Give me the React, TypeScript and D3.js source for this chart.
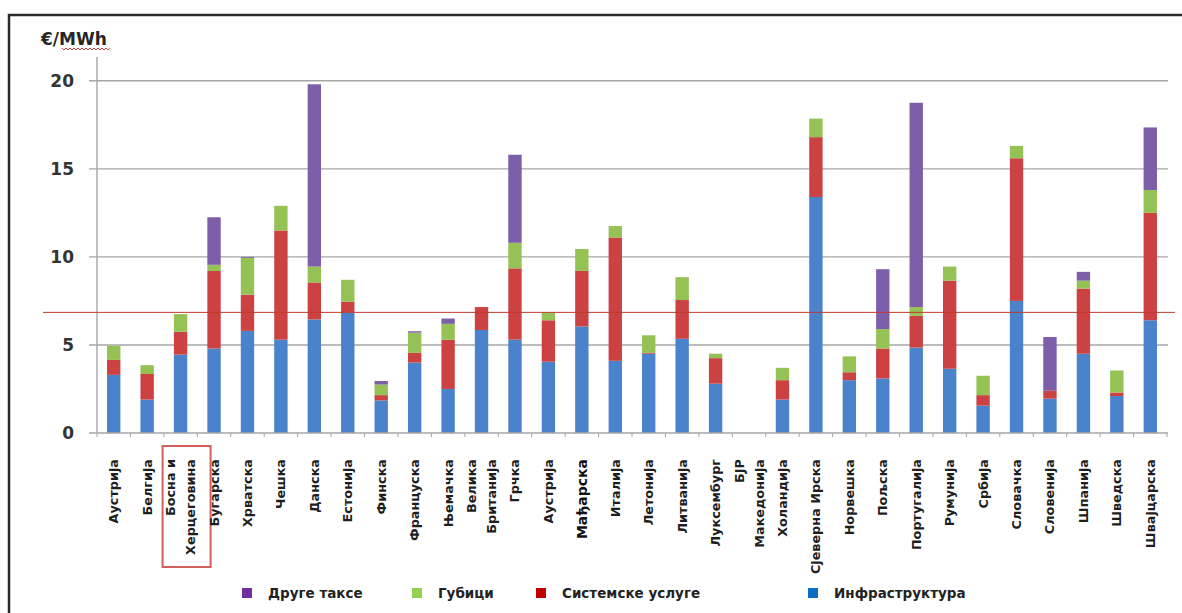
import React from "react";
import * as d3 from "d3";

// Countries along the x axis (multi-line labels split with "\n")
const countries = [
  "Аустрија", "Белгија", "Босна и\nХерцеговина", "Бугарска", "Хрватска", "Чешка",
  "Данска", "Естонија", "Финска", "Француска", "Њемачка", "Велика\nБританија",
  "Грчка", "Аустрија", "Мађарска", "Италија", "Летонија", "Литванија",
  "Луксембург", "БЈР\nМакедонија", "Холандија", "Сјеверна Ирска", "Норвешка", "Пољска",
  "Португалија", "Румунија", "Србија", "Словачка", "Словенија", "Шпанија",
  "Шведска", "Швајцарска",
];

// €/MWh components, stacked bottom to top
const infrastructure = [
  3.3, 1.9, 4.45, 4.8, 5.8, 5.3, 6.45, 6.85, 1.85, 4.0, 2.5, 5.85,
  5.3, 4.05, 6.05, 4.1, 4.5, 5.35, 2.8, 0, 1.9, 13.4, 3.0, 3.1,
  4.85, 3.65, 1.55, 7.5, 1.95, 4.5, 2.1, 6.4,
];
const systemServices = [
  0.85, 1.45, 1.3, 4.4, 2.05, 6.2, 2.1, 0.6, 0.3, 0.55, 2.8, 1.3,
  4.05, 2.35, 3.15, 7.0, 0.05, 2.2, 1.45, 0, 1.1, 3.4, 0.45, 1.7,
  1.8, 5.0, 0.6, 8.1, 0.45, 3.7, 0.2, 6.1,
];
const losses = [
  0.8, 0.5, 1.0, 0.35, 2.1, 1.4, 0.9, 1.25, 0.6, 1.15, 0.9, 0,
  1.45, 0.45, 1.25, 0.65, 1.0, 1.3, 0.25, 0, 0.7, 1.05, 0.9, 1.1,
  0.5, 0.8, 1.1, 0.7, 0, 0.45, 1.25, 1.3,
];
const otherTaxes = [
  0, 0, 0, 2.7, 0.05, 0, 10.35, 0, 0.2, 0.08, 0.3, 0,
  5.0, 0, 0, 0, 0, 0, 0, 0, 0, 0, 0, 3.4,
  11.6, 0, 0, 0, 3.05, 0.5, 0, 3.55,
];

const seriesKeys = ["infra", "system", "losses", "other"];
const seriesNames = ["Инфраструктура", "Системске услуге", "Губици", "Друге таксе"];
const barColors = ["#4a82cc", "#cc4242", "#95c255", "#7d5ea8"];
const legendColors = ["#0a6fc2", "#c00000", "#92d050", "#7030a0"];
const legendOrder = [3, 2, 1, 0];

const yTicks = [0, 5, 10, 15, 20];
const averageLevel = 6.85;
const highlighted = "Босна и\nХерцеговина";

const W = 1182;
const H = 613;

export default function App() {
  const rows = countries.map((c, i) => ({
    country: c,
    idx: i,
    infra: infrastructure[i],
    system: systemServices[i],
    losses: losses[i],
    other: otherTaxes[i],
  }));

  const x = d3
    .scaleBand<number>()
    .domain(rows.map((r) => r.idx))
    .range([97, 1167])
    .paddingInner(0.6)
    .paddingOuter(0.3);
  const y = d3.scaleLinear().domain([0, 21.35]).range([433, 57]);

  const stacked = d3.stack<any>().keys(seriesKeys)(rows);
  const step = x.step();
  const x0 = x.range()[0];

  const font = "'DejaVu Sans', sans-serif";

  // spell-check style squiggle under the unit label
  let squiggle = "M62,48";
  for (let px = 62, k = 0; px < 109; px += 2, k++) {
    squiggle += ` L${px + 2},${k % 2 === 0 ? 50 : 48}`;
  }

  const legendX = [242, 412, 536, 808];

  return (
    <svg
      width={W}
      height={H}
      style={{ position: "absolute", left: 0, top: 0, background: "#fff" }}
      fontFamily={font}
    >
      <rect x={0} y={0} width={W} height={H} fill="#fff" />
      {/* outer frame */}
      <rect x={9} y={15} width={1300} height={800} fill="none" stroke="#2a2a2a" strokeWidth={2.5} />

      {/* unit label */}
      <text x={41} y={45} fontSize={17} fontWeight="bold" fill="#262626">
        €/MWh
      </text>
      <path d={squiggle} fill="none" stroke="#d03030" strokeWidth={0.9} />

      {/* gridlines and y labels */}
      {yTicks.map((t) => (
        <g key={t}>
          {t > 0 && (
            <line x1={89} x2={1168} y1={y(t)} y2={y(t)} stroke="#a6a6a6" strokeWidth={1.4} />
          )}
          <text
            x={74}
            y={y(t)}
            dy="0.36em"
            textAnchor="end"
            fontSize={17}
            fontWeight="bold"
            fill="#333"
          >
            {t}
          </text>
        </g>
      ))}

      {/* y axis line */}
      <line x1={97} x2={97} y1={57} y2={y(0)} stroke="#a6a6a6" strokeWidth={1.4} />

      {/* stacked bars */}
      {stacked.map((layer, si) => (
        <g key={layer.key} fill={barColors[si]}>
          {layer.map((d: any, i: number) => {
            const h = y(d[0]) - y(d[1]);
            if (h <= 0) return null;
            return (
              <rect
                key={i}
                x={x(rows[i].idx)}
                y={y(d[1])}
                width={x.bandwidth()}
                height={h}
              />
            );
          })}
        </g>
      ))}

      {/* x axis baseline and ticks */}
      <line x1={89} x2={1168} y1={y(0)} y2={y(0)} stroke="#a6a6a6" strokeWidth={1.4} />
      {d3.range(countries.length + 1).map((i) => (
        <line
          key={i}
          x1={x0 + i * step}
          x2={x0 + i * step}
          y1={y(0)}
          y2={y(0) + 4}
          stroke="#a6a6a6"
          strokeWidth={1}
        />
      ))}

      {/* average level */}
      <line x1={43} x2={1175} y1={y(averageLevel)} y2={y(averageLevel)} stroke="#c0392b" strokeWidth={1} />

      {/* category labels */}
      {rows.map((r) => {
        const cx = (x(r.idx) as number) + x.bandwidth() / 2;
        const lines = r.country.split("\n");
        const big = r.country === "Мађарска";
        return (
          <g key={r.idx}>
            {lines.map((ln, li) => {
              const off = (li - (lines.length - 1) / 2) * 20;
              return (
                <text
                  key={li}
                  transform={`translate(${cx + off},459) rotate(-90)`}
                  textAnchor="end"
                  dy="0.35em"
                  fontSize={big ? 14 : 12.8}
                  fontWeight="bold"
                  fill={big ? "#111" : "#1e1e1e"}
                >
                  {ln}
                </text>
              );
            })}
            {r.country === highlighted && (
              <rect
                x={cx - 18}
                y={446}
                width={48}
                height={121}
                fill="none"
                stroke="#d0605a"
                strokeWidth={2}
              />
            )}
          </g>
        );
      })}

      {/* legend */}
      {legendOrder.map((si, k) => (
        <g key={si} transform={`translate(${legendX[k]},593)`}>
          <rect x={0} y={-5} width={10} height={10} fill={legendColors[si]} />
          <text x={26} y={0} dy="0.35em" fontSize={13.5} fontWeight="bold" fill="#222">
            {seriesNames[si]}
          </text>
        </g>
      ))}
    </svg>
  );
}
